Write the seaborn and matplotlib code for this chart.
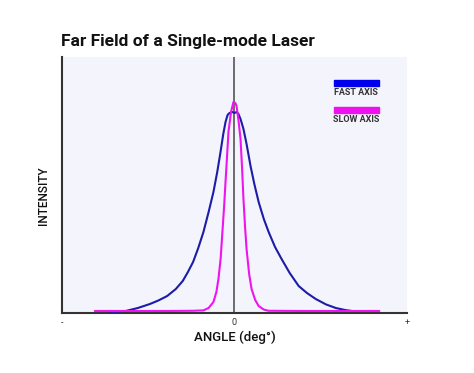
import numpy as np
import pandas as pd
import matplotlib
matplotlib.use("Agg")
import matplotlib.pyplot as plt
import seaborn as sns
from matplotlib.patches import Rectangle

sns.set_theme(style="white")
plt.rcParams["font.family"] = ["Roboto", "DejaVu Sans"]

# values (angle in arbitrary units -10..10, intensity normalised)
fast_angle = [-7.2, -6.3, -5.6, -4.9, -4.4, -3.9, -3.4, -3.0, -2.7, -2.4, -2.1, -1.8, -1.5,
              -1.22, -1.0, -0.81, -0.65, -0.52, -0.4, -0.29, -0.12, 0.0, 0.12, 0.23, 0.35,
              0.52, 0.7, 0.93, 1.15, 1.4, 1.7, 1.98, 2.35, 2.73, 3.2, 3.72, 4.2, 4.71,
              5.3, 5.87, 6.4, 6.8]
fast_intensity = [0.0, 0.005, 0.02, 0.04, 0.058, 0.08, 0.115, 0.155, 0.2, 0.25, 0.32, 0.40,
                  0.50, 0.60, 0.70, 0.80, 0.89, 0.95, 0.985, 0.995, 1.0, 0.995, 1.0, 0.99,
                  0.965, 0.915, 0.84, 0.73, 0.64, 0.55, 0.465, 0.40, 0.325, 0.265, 0.195,
                  0.13, 0.095, 0.065, 0.038, 0.02, 0.01, 0.005]

slow_angle = [-8.1, -4.0, -2.4, -1.8, -1.5, -1.22, -1.05, -0.93, -0.8, -0.7, -0.6, -0.52,
              -0.43, -0.35, -0.2, -0.06, 0.05, 0.12, 0.23, 0.35, 0.44, 0.52, 0.61, 0.7,
              0.85, 0.99, 1.2, 1.4, 1.7, 1.98, 4.0, 8.4]
slow_intensity = [0.005, 0.005, 0.006, 0.008, 0.02, 0.05, 0.1, 0.165, 0.27, 0.40, 0.53,
                  0.65, 0.78, 0.90, 1.0, 1.05, 1.045, 1.03, 0.96, 0.865, 0.72, 0.565, 0.43,
                  0.315, 0.19, 0.115, 0.06, 0.03, 0.012, 0.006, 0.005, 0.005]

tick_pos = [-10, 0, 10]
tick_labels = ["-", "0", "+"]

fast_color = "#1C1CA8"
slow_color = "#EE14EE"

df = pd.concat([
    pd.DataFrame({"angle": fast_angle, "intensity": fast_intensity, "axis": "FAST AXIS"}),
    pd.DataFrame({"angle": slow_angle, "intensity": slow_intensity, "axis": "SLOW AXIS"}),
])

fig = plt.figure(figsize=(4.74, 3.73), dpi=100)
ax = fig.add_axes([0.1308, 0.1609, 0.7278, 0.6863])
ax.set_facecolor("#F4F4FC")

ax.axvline(0, color="#555555", lw=1.2, zorder=1)
sns.lineplot(data=df, x="angle", y="intensity", hue="axis", sort=False,
             palette={"FAST AXIS": fast_color, "SLOW AXIS": slow_color},
             linewidth=1.5, legend=False, ax=ax, zorder=3)

ax.set_xlim(-10, 10)
ax.set_ylim(-0.005, 1.275)
ax.set_xticks(tick_pos)
ax.set_xticklabels(tick_labels, fontsize=6.5)
ax.set_yticks([])
ax.tick_params(axis="x", length=2, width=0.8, pad=1.5, colors="#333333")

for side in ["top", "right"]:
    ax.spines[side].set_visible(False)
for side in ["left", "bottom"]:
    ax.spines[side].set_color("#333333")
    ax.spines[side].set_linewidth(1.5)

ax.set_xlabel("ANGLE (deg\u00b0)", fontsize=9.5, fontweight="medium", labelpad=3, color="#111111")
ax.set_ylabel("INTENSITY", fontsize=8.5, fontweight="medium", labelpad=6, color="#111111")
ax.yaxis.set_label_coords(-0.035, 0.46)

# legend: colour bar with label underneath
legend_items = [("FAST AXIS", "#0000EE", 0.898), ("SLOW AXIS", "#EE10EE", 0.793)]
for name, col, yc in legend_items:
    ax.add_patch(Rectangle((0.788, yc - 0.012), 0.13, 0.024, transform=ax.transAxes,
                           color=col, zorder=4))
    ax.text(0.853, yc - 0.037, name, transform=ax.transAxes, ha="center", va="center",
            fontsize=6.5, fontweight="bold", color="#333333")

fig.text(0.129, 0.89, "Far Field of a Single-mode Laser", fontsize=12.5,
         fontweight="bold", ha="left", va="center", color="#111111")

fig.savefig("out.png", dpi=100, facecolor="white")
